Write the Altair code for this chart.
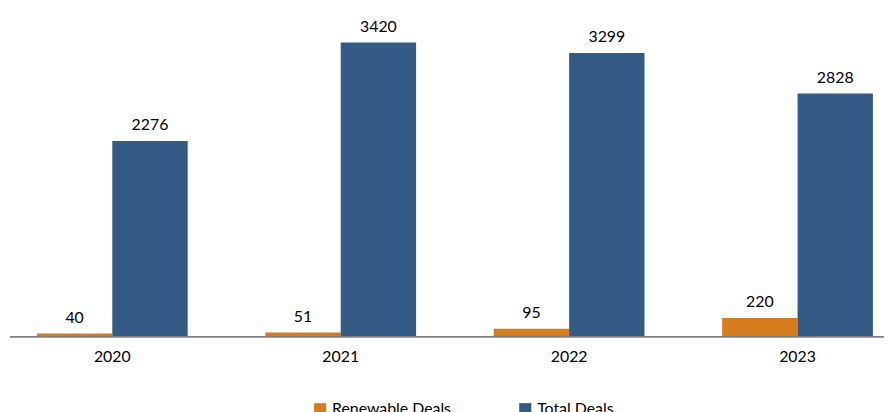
import altair as alt
import pandas as pd

years = ["2020", "2021", "2022", "2023"]
renewable = [40, 51, 95, 220]
total = [2276, 3420, 3299, 2828]
series = ["Renewable Deals", "Total Deals"]
colors = ["#D77B1F", "#345A86"]

rows = []
for i, y in enumerate(years):
    rows.append({"year": y, "series": series[0], "value": renewable[i]})
    rows.append({"year": y, "series": series[1], "value": total[i]})
df = pd.DataFrame(rows)

FONT = "Lato"

xenc = alt.X("year:N", title=None, sort=years,
             scale=alt.Scale(range=[-10, 912], paddingInner=0.34, paddingOuter=0.17, round=False),
             axis=alt.Axis(labelAngle=0, ticks=False, domain=False, labelFontSize=16,
                           labelPadding=12, labelColor="#000000", labelFont=FONT))
yenc = alt.Y("value:Q", axis=None, scale=alt.Scale(domain=[0, 3800]))
xoff = alt.XOffset("series:N", sort=series, scale=alt.Scale(paddingInner=0, paddingOuter=0))

base = alt.Chart(df)

bars = base.mark_bar().encode(
    x=xenc, xOffset=xoff, y=yenc,
    color=alt.Color("series:N", sort=series,
                    scale=alt.Scale(domain=series, range=colors),
                    legend=alt.Legend(title=None, orient="none", legendX=307, legendY=395,
                                      direction="horizontal", symbolType="square",
                                      symbolSize=150, labelFontSize=16, labelFont=FONT,
                                      labelColor="#000000", columnPadding=66,
                                      symbolStrokeWidth=0, labelOffset=4)),
)

labels = base.mark_text(baseline="bottom", dy=-8, fontSize=16, font=FONT, color="#000000").encode(
    x=xenc, xOffset=xoff, y=yenc, text=alt.Text("value:Q")
)

rule = alt.Chart(pd.DataFrame({"a": [0]})).mark_rule(color="#7F7F7F", strokeWidth=2).encode(
    x=alt.value(2), x2=alt.value(884), y=alt.value(330)
)

chart = alt.layer(bars, labels, rule).properties(
    width=884, height=330,
    autosize=alt.AutoSizeParams(type="none"),
    padding={"left": 0, "top": 0, "right": 0, "bottom": 80},
).configure_view(stroke=None)

chart.save("out.html", embed_options={"renderer": "svg", "actions": False})
